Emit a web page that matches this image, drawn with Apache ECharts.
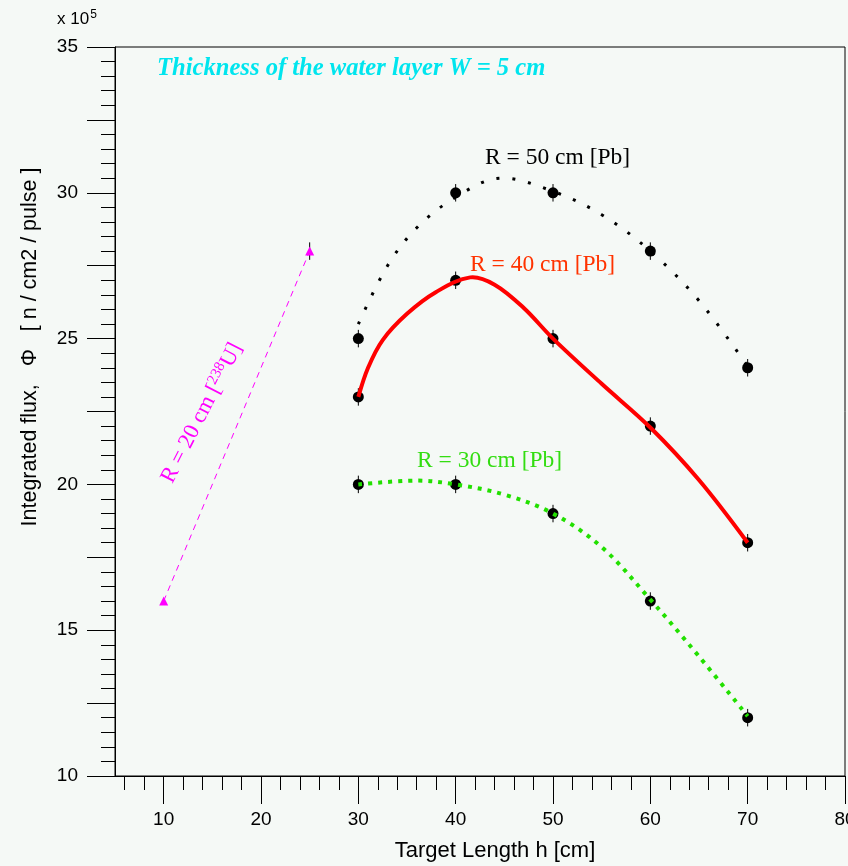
<!DOCTYPE html>
<html lang="en">
<head>
    <meta charset="utf-8">
    <title>Integrated flux vs target length</title>
    <script src="https://cdn.jsdelivr.net/npm/echarts@6/dist/echarts.min.js"></script>
    <style>
        html, body { margin: 0; padding: 0; background: #f5f9f6; }
        #main { width: 848px; height: 866px; }
    </style>
</head>
<body>
<div id="main"></div>
<script>
    // measured points (h in cm, flux in 1e5 n/cm2/pulse)
    var hPb = [30, 40, 50, 60, 70];
    var r50 = [25, 30, 30, 28, 24];
    var r40 = [23, 27, 25, 22, 18];
    var r30 = [20, 20, 19, 16, 12];
    var hU = [10, 25];
    var r20 = [16, 28];
    var errPb = 0.3;

    // fitted curves (peaks included)
    var fitH50 = [30, 33, 36, 40, 44.5, 50, 55, 60, 65, 70];
    var fit50 = [25.5, 27.5, 28.8, 29.85, 30.5, 30.05, 29.25, 28.0, 26.3, 24.05];
    var fitH40 = [30, 31, 32.5, 35, 38, 41.5, 44, 47, 50, 55, 60, 65, 70];
    var fit40 = [23.0, 24.0, 24.95, 25.85, 26.6, 27.1, 26.85, 26.05, 25.0, 23.45, 21.95, 20.15, 18.0];
    var fitH30 = [30, 36, 40, 45, 50, 55, 60, 65, 70];
    var fit30 = [20.0, 20.13, 20.0, 19.65, 19.0, 17.85, 16.05, 14.1, 12.05];

    var xMajor = [10, 20, 30, 40, 50, 60, 70, 80];
    var xMinor = [6, 8, 12, 14, 16, 18, 22, 24, 26, 28, 32, 34, 36, 38, 42, 44, 46, 48,
        52, 54, 56, 58, 62, 64, 66, 68, 72, 74, 76, 78];

    function zip(xs, ys) {
        return xs.map(function (x, i) { return [x, ys[i]]; });
    }

    var errData = [];
    [r50, r40, r30].forEach(function (arr) {
        hPb.forEach(function (h, i) { errData.push([h, arr[i], errPb]); });
    });
    errData.push([hU[1], r20[1], errPb]);

    var tickFont = { fontFamily: 'Liberation Sans', fontSize: 19, color: '#000' };

    function pointSeries(name, ys) {
        return {
            type: 'scatter', name: name, data: zip(hPb, ys),
            symbol: 'circle', symbolSize: 11,
            itemStyle: { color: '#000', opacity: 1 }, z: 2
        };
    }

    // smooth fit curve drawn as one polyline through the read points
    function curveSeries(name, xs, ys, style) {
        return {
            type: 'custom', name: name, data: zip(xs, ys), z: 3,
            renderItem: function (params, api) {
                if (params.dataIndex !== 0) return null;
                var pts = xs.map(function (x, i) { return api.coord([x, ys[i]]); });
                return {
                    type: 'polyline',
                    shape: { points: pts, smooth: 0.35 },
                    style: Object.assign({ fill: null }, style)
                };
            }
        };
    }

    var myChart = echarts.init(document.getElementById('main'));
    var option = {
        backgroundColor: '#f5f9f6',
        animation: false,
        grid: {
            left: 115, right: 3, top: 47, bottom: 90,
            outerBoundsMode: 'none',
            show: true, borderColor: '#000', borderWidth: 1, backgroundColor: 'transparent'
        },
        xAxis: [{
            type: 'value', min: 5, max: 80, position: 'bottom',
            axisLine: { lineStyle: { color: '#000', width: 1 } },
            axisTick: { inside: false, length: 28, customValues: xMajor, lineStyle: { color: '#000' } },
            axisLabel: Object.assign({ customValues: xMajor, margin: 34 }, tickFont),
            splitLine: { show: false },
            name: 'Target Length h [cm]',
            nameLocation: 'middle',
            nameGap: 64,
            nameTextStyle: { fontFamily: 'Liberation Sans', fontSize: 22, color: '#000', padding: [0, 0, 0, 30] }
        }, {
            type: 'value', min: 5, max: 80, position: 'bottom',
            axisLine: { show: false },
            axisTick: { inside: false, length: 14, customValues: xMinor, lineStyle: { color: '#000' } },
            axisLabel: { show: false },
            splitLine: { show: false }
        }],
        yAxis: {
            type: 'value', min: 10, max: 35, interval: 2.5,
            axisLine: { lineStyle: { color: '#000', width: 1 } },
            axisTick: { inside: false, length: 28, lineStyle: { color: '#000' } },
            minorTick: { show: true, splitNumber: 5, length: 14, lineStyle: { color: '#000' } },
            axisLabel: Object.assign({
                margin: 37,
                formatter: function (v) { return v % 5 === 0 ? String(v) : ''; }
            }, tickFont),
            splitLine: { show: false }
        },
        series: [
            pointSeries('R=50', r50),
            pointSeries('R=40', r40),
            pointSeries('R=30', r30),
            {
                type: 'custom', name: 'errors', data: errData, z: 2,
                renderItem: function (params, api) {
                    var x = api.value(0), y = api.value(1), e = api.value(2);
                    var p1 = api.coord([x, y - e]);
                    var p2 = api.coord([x, y + e]);
                    return {
                        type: 'line',
                        shape: { x1: p1[0], y1: p1[1], x2: p2[0], y2: p2[1] },
                        style: { stroke: '#000', lineWidth: 1 }
                    };
                }
            },
            curveSeries('fit50', fitH50, fit50, { stroke: '#000', lineWidth: 3, lineDash: [3, 13], lineCap: 'butt' }),
            curveSeries('fit40', fitH40, fit40, { stroke: '#ff0000', lineWidth: 4 }),
            curveSeries('fit30', fitH30, fit30, { stroke: '#22e000', lineWidth: 4, lineDash: [4, 6], lineCap: 'butt' }),
            {
                type: 'line', name: 'R=20 U', data: zip(hU, r20),
                symbol: 'triangle', symbolSize: 9, showSymbol: true,
                itemStyle: { color: '#ff00ff' },
                lineStyle: { color: '#ff00ff', width: 1, type: [6, 5] }, z: 3
            }
        ],
        graphic: [
            {
                type: 'text', left: 57, top: 9,
                style: {
                    text: 'x 10{s|5}', fill: '#000',
                    font: '17px "Liberation Sans"',
                    rich: { s: { fontSize: 12, verticalAlign: 'top', padding: [0, 0, 8, 1] } }
                }
            },
            {
                type: 'text', x: 30, y: 347, rotation: Math.PI / 2,
                style: {
                    text: 'Integrated flux,   \u03A6   [ n / cm2 / pulse ]', fill: '#000',
                    font: '21.5px "Liberation Sans"', align: 'center', verticalAlign: 'middle'
                }
            },
            {
                type: 'text', x: 157, y: 69,
                style: {
                    text: 'Thickness of the water layer W = 5 cm', fill: '#00e5ee',
                    font: 'italic bold 24.6px "Liberation Serif"', verticalAlign: 'middle'
                }
            },
            {
                type: 'text', x: 485, y: 158,
                style: {
                    text: 'R = 50 cm [Pb]', fill: '#000',
                    font: '23.5px "Liberation Serif"', verticalAlign: 'middle'
                }
            },
            {
                type: 'text', x: 470, y: 265,
                style: {
                    text: 'R = 40 cm [Pb]', fill: '#ff3300',
                    font: '23.5px "Liberation Serif"', verticalAlign: 'middle'
                }
            },
            {
                type: 'text', x: 417, y: 461,
                style: {
                    text: 'R = 30 cm [Pb]', fill: '#33dd11',
                    font: '23.5px "Liberation Serif"', verticalAlign: 'middle'
                }
            },
            {
                type: 'text', x: 202, y: 413, rotation: 63 * Math.PI / 180,
                style: {
                    text: 'R = 20 cm [{s|238}U]', fill: '#ff00ff',
                    font: '22.5px "Liberation Serif"', align: 'center', verticalAlign: 'middle',
                    rich: { s: { fontSize: 15, fontFamily: 'Liberation Serif', fill: '#ff00ff', padding: [0, 0, 10, 0] } }
                }
            }
        ]
    };
    myChart.setOption(option);
</script>
</body>
</html>
